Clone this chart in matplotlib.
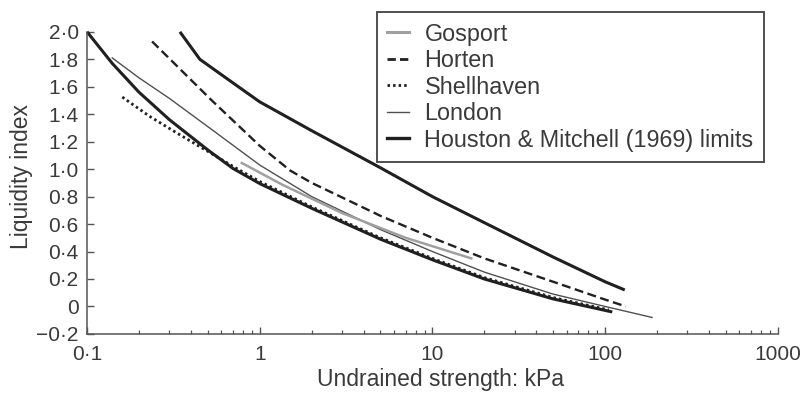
import matplotlib
matplotlib.use("Agg")
import matplotlib.pyplot as plt
from matplotlib.ticker import FixedLocator, LogLocator, NullFormatter

plt.rcParams['font.family'] = ['Liberation Sans', 'DejaVu Sans']

# data (x = undrained strength kPa, y = liquidity index)
gosport_x = [0.787, 1.36, 3.0, 7.0, 16.8]
gosport_y = [1.045, 0.885, 0.68, 0.50, 0.35]

horten_x = [0.238, 0.528, 1.0, 1.5, 2.0, 5.0, 10, 20, 50, 100, 132]
horten_y = [1.93, 1.50, 1.17, 0.99, 0.90, 0.66, 0.50, 0.35, 0.18, 0.05, 0.0]

shell_x = [0.16, 0.23, 0.35, 0.5, 0.7, 1.0, 2.0, 5.0, 10, 20, 50, 105]
shell_y = [1.525, 1.385, 1.245, 1.13, 1.02, 0.91, 0.725, 0.50, 0.35, 0.21, 0.065, -0.025]

london_x = [0.14, 0.2, 0.3, 0.5, 1.0, 2.0, 5.0, 10, 20, 50, 100, 187]
london_y = [1.81, 1.665, 1.515, 1.31, 1.03, 0.80, 0.56, 0.40, 0.25, 0.09, 0.0, -0.08]

hm_upper_x = [0.345, 0.45, 0.67, 1.0, 2.0, 5.0, 10, 20, 50, 100, 130]
hm_upper_y = [2.0, 1.80, 1.645, 1.49, 1.28, 1.01, 0.80, 0.61, 0.36, 0.18, 0.12]

hm_lower_x = [0.1, 0.14, 0.2, 0.3, 0.5, 0.7, 1.0, 2.0, 5.0, 10, 20, 50, 110]
hm_lower_y = [2.0, 1.77, 1.56, 1.36, 1.14, 1.005, 0.895, 0.715, 0.49, 0.34, 0.20, 0.055, -0.04]

yticks = [-0.2, 0, 0.2, 0.4, 0.6, 0.8, 1.0, 1.2, 1.4, 1.6, 1.8, 2.0]
ytick_labels = ['\u22120\u00b72', '0', '0\u00b72', '0\u00b74', '0\u00b76', '0\u00b78',
                '1\u00b70', '1\u00b72', '1\u00b74', '1\u00b76', '1\u00b78', '2\u00b70']
xticks = [0.1, 1, 10, 100, 1000]
xtick_labels = ['0\u00b71', '1', '10', '100', '1000']

txt = '#3a3a3a'
ax_col = '#555555'

fig = plt.figure(figsize=(8.06, 3.98), dpi=100)
ax = fig.add_axes([0.108, 0.161, 0.857, 0.759])

ax.plot(hm_lower_x, hm_lower_y, color='#202020', lw=2.2, clip_on=False, solid_capstyle='butt')
ax.plot(hm_upper_x, hm_upper_y, color='#202020', lw=2.2, clip_on=False, solid_capstyle='butt')
ax.plot(shell_x, shell_y, color='#202020', lw=2.0, ls=(0, (0.9, 1.1)), clip_on=False)
ax.plot(horten_x, horten_y, color='#202020', lw=1.7, ls=(0, (3.8, 1.9)), clip_on=False)
ax.plot(london_x, london_y, color='#505050', lw=1.0, clip_on=False)
ax.plot(gosport_x, gosport_y, color='#a0a0a0', lw=1.8, clip_on=False)

ax.set_xscale('log')
ax.set_xlim(0.1, 1000)
ax.set_ylim(-0.2, 2.0)

ax.xaxis.set_major_locator(FixedLocator(xticks))
ax.set_xticklabels(xtick_labels)
ax.xaxis.set_minor_locator(LogLocator(base=10, subs=range(2, 10)))
ax.xaxis.set_minor_formatter(NullFormatter())
ax.set_yticks(yticks)
ax.set_yticklabels(ytick_labels)

for s in ['top', 'right']:
    ax.spines[s].set_visible(False)
for s in ['left', 'bottom']:
    ax.spines[s].set_color(ax_col)
    ax.spines[s].set_linewidth(1.1)

ax.tick_params(axis='both', which='major', direction='in', length=5, width=1,
               color=ax_col, labelsize=15, labelcolor=txt)
ax.tick_params(axis='x', which='major', pad=8)
ax.tick_params(axis='y', which='major', pad=6)
ax.tick_params(axis='x', which='minor', direction='in', length=3, width=0.9, color=ax_col)

ax.set_xlabel('Undrained strength: kPa', fontsize=16.5, color=txt)
ax.set_ylabel('Liquidity index', fontsize=16.5, color=txt)
ax.xaxis.set_label_coords(0.511, -0.113)
ax.yaxis.set_label_coords(-0.078, 0.52)

h1, = ax.plot([], [], color='#a0a0a0', lw=2.2)
h2, = ax.plot([], [], color='#202020', lw=2.0, ls=(0, (3.0, 1.5)))
h3, = ax.plot([], [], color='#202020', lw=2.0, ls=(0, (0.9, 1.1)))
h4, = ax.plot([], [], color='#505050', lw=1.0)
h5, = ax.plot([], [], color='#202020', lw=2.4)
leg = ax.legend([h1, h2, h3, h4, h5],
                ['Gosport', 'Horten', 'Shellhaven', 'London', 'Houston & Mitchell (1969) limits'],
                loc='upper right', bbox_to_anchor=(764 / 806, (398 - 12) / 398),
                bbox_transform=fig.transFigure, borderaxespad=0, fancybox=False,
                fontsize=16.8, labelcolor=txt, handlelength=0.95, handletextpad=0.65,
                labelspacing=0.15, borderpad=0.45, frameon=True)
leg.get_frame().set_edgecolor('#222222')
leg.get_frame().set_linewidth(1.4)

fig.savefig('out.png', dpi=100)
